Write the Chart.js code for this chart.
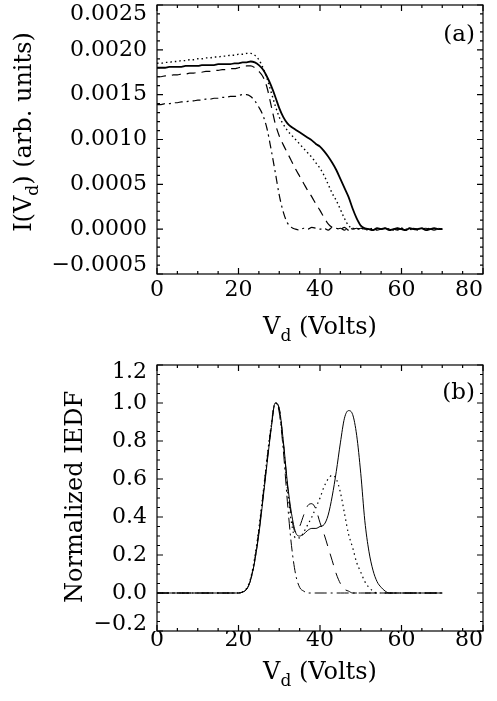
<!DOCTYPE html>
<html>
<head>
<meta charset="utf-8">
<script src="https://cdn.jsdelivr.net/npm/chart.js@4.4.1/dist/chart.umd.min.js"></script>
<style>
  body { margin: 0; background: #fff; }
  #wrap { position: relative; width: 497px; height: 701px; }
  canvas { position: absolute; left: 0; }
</style>
</head>
<body>
<div id="wrap">
  <canvas id="chartA" width="497" height="350" style="top:0"></canvas>
  <canvas id="chartB" width="497" height="351" style="top:350px"></canvas>
</div>
<script>
// retarding voltage grid (Volts)
const voltages = [
  0, 1, 2, 3, 4, 5, 6, 7, 8, 9,
  10, 11, 12, 13, 14, 15, 16, 17, 18, 19,
  20, 21, 22, 23, 24, 25, 26, 27, 28, 29,
  30, 31, 32, 33, 34, 35, 36, 37, 38, 39,
  40, 41, 42, 43, 44, 45, 46, 47, 48, 49,
  50, 51, 52, 53, 54, 55, 56, 57, 58, 59,
  60, 61, 62, 63, 64, 65, 66, 67, 68, 69, 70
];

// panel (a): collected current I(Vd), arb. units
const currentSolid = [
  0.00180, 0.00180, 0.00180, 0.00181, 0.00181, 0.00181, 0.00181, 0.00182, 0.00182, 0.00182,
  0.00182, 0.00183, 0.00183, 0.00183, 0.00183, 0.00184, 0.00184, 0.00184, 0.00184, 0.00185,
  0.00185, 0.00186, 0.00186, 0.00187, 0.00186, 0.00183, 0.00178, 0.00170, 0.00160, 0.00148,
  0.00135, 0.00125, 0.00118, 0.00114, 0.00111, 0.00108, 0.00105, 0.00102, 0.00099, 0.00095,
  0.00092, 0.00087, 0.00081, 0.00074, 0.00066, 0.00056, 0.00046, 0.00036, 0.00023, 0.00012,
  0.00004, 0.00001, 0.00000, -0.00001, 0.00001, 0.00000, 0.00001, -0.00001, 0.00000, 0.00001,
  0.00000, -0.00001, 0.00001, 0.00000, 0.00000, 0.00001, -0.00001, 0.00000, 0.00001, 0.00000, 0.00000
];
const currentDotted = [
  0.00185, 0.00185, 0.00186, 0.00186, 0.00187, 0.00187, 0.00188, 0.00188, 0.00189, 0.00189,
  0.00190, 0.00190, 0.00191, 0.00191, 0.00192, 0.00192, 0.00193, 0.00193, 0.00194, 0.00194,
  0.00195, 0.00195, 0.00196, 0.00196, 0.00194, 0.00189, 0.00180, 0.00168, 0.00153, 0.00138,
  0.00125, 0.00117, 0.00110, 0.00105, 0.00100, 0.00095, 0.00090, 0.00085, 0.00080, 0.00074,
  0.00068, 0.00060, 0.00050, 0.00040, 0.00032, 0.00022, 0.00012, 0.00004, 0.00001, 0.00000,
  0.00001, 0.00000, -0.00001, 0.00001, 0.00000, 0.00000, 0.00001, 0.00000, -0.00001, 0.00000,
  0.00001, 0.00000, 0.00000, -0.00001, 0.00001, 0.00000, 0.00000, 0.00001, 0.00000, 0.00000, 0.00000
];
const currentDashed = [
  0.00170, 0.00170, 0.00171, 0.00171, 0.00172, 0.00172, 0.00173, 0.00173, 0.00174, 0.00174,
  0.00175, 0.00175, 0.00176, 0.00176, 0.00177, 0.00177, 0.00178, 0.00178, 0.00179, 0.00179,
  0.00180, 0.00181, 0.00182, 0.00182, 0.00180, 0.00176, 0.00170, 0.00158, 0.00138, 0.00118,
  0.00104, 0.00094, 0.00085, 0.00076, 0.00067, 0.00059, 0.00051, 0.00043, 0.00036, 0.00028,
  0.00021, 0.00013, 0.00006, 0.00002, 0.00000, 0.00001, -0.00001, 0.00002, 0.00000, 0.00001,
  0.00000, 0.00001, 0.00000, -0.00001, 0.00001, 0.00000, 0.00001, 0.00000, 0.00000, -0.00001,
  0.00001, 0.00000, 0.00001, 0.00000, -0.00001, 0.00000, 0.00001, 0.00000, 0.00000, 0.00001, 0.00000
];
const currentDashDot = [
  0.00139, 0.00139, 0.00140, 0.00140, 0.00141, 0.00141, 0.00142, 0.00142, 0.00143, 0.00143,
  0.00144, 0.00144, 0.00145, 0.00145, 0.00146, 0.00146, 0.00147, 0.00147, 0.00148, 0.00148,
  0.00149, 0.00150, 0.00150, 0.00148, 0.00143, 0.00136, 0.00127, 0.00112, 0.00089, 0.00064,
  0.00038, 0.00019, 0.00007, 0.00002, 0.00000, -0.00001, 0.00001, 0.00000, 0.00002, 0.00001,
  0.00000, 0.00001, -0.00001, 0.00002, 0.00001, 0.00000, 0.00002, -0.00001, 0.00001, 0.00000,
  0.00001, 0.00000, 0.00000, 0.00001, -0.00001, 0.00000, 0.00001, 0.00000, 0.00000, 0.00001,
  0.00000, -0.00001, 0.00000, 0.00001, 0.00000, 0.00000, 0.00001, 0.00000, -0.00001, 0.00000, 0.00000
];

// panel (b): normalized IEDF
const iedfSolid = [
  0, 0, 0, 0, 0, 0, 0, 0, 0, 0,
  0, 0, 0, 0, 0, 0, 0, 0, 0, 0,
  0, 0.005, 0.02, 0.07, 0.17, 0.31, 0.49, 0.68, 0.86, 1.0,
  0.97, 0.80, 0.58, 0.42, 0.32, 0.30, 0.31, 0.33, 0.34, 0.34,
  0.35, 0.36, 0.41, 0.51, 0.64, 0.79, 0.92, 0.96, 0.94, 0.83,
  0.63, 0.38, 0.22, 0.12, 0.06, 0.03, 0.01, 0, 0, 0,
  0, 0, 0, 0, 0, 0, 0, 0, 0, 0, 0
];
const iedfDotted = [
  0, 0, 0, 0, 0, 0, 0, 0, 0, 0,
  0, 0, 0, 0, 0, 0, 0, 0, 0, 0,
  0, 0.006, 0.025, 0.08, 0.19, 0.34, 0.52, 0.71, 0.88, 1.0,
  0.96, 0.78, 0.55, 0.37, 0.29, 0.29, 0.32, 0.36, 0.40, 0.45,
  0.50, 0.56, 0.60, 0.62, 0.60, 0.53, 0.42, 0.31, 0.24, 0.16,
  0.11, 0.06, 0.03, 0.01, 0, 0, 0, 0, 0, 0,
  0, 0, 0, 0, 0, 0, 0, 0, 0, 0, 0
];
const iedfDashed = [
  0, 0, 0, 0, 0, 0, 0, 0, 0, 0,
  0, 0, 0, 0, 0, 0, 0, 0, 0, 0,
  0, 0.005, 0.022, 0.075, 0.18, 0.33, 0.51, 0.70, 0.87, 1.0,
  0.97, 0.79, 0.57, 0.40, 0.32, 0.35, 0.41, 0.46, 0.47, 0.44,
  0.37, 0.31, 0.24, 0.17, 0.10, 0.05, 0.02, 0.01, 0, 0,
  0, 0, 0, 0, 0, 0, 0, 0, 0, 0,
  0, 0, 0, 0, 0, 0, 0, 0, 0, 0, 0
];
const iedfDashDot = [
  0, 0, 0, 0, 0, 0, 0, 0, 0, 0,
  0, 0, 0, 0, 0, 0, 0, 0, 0, 0,
  0, 0.005, 0.02, 0.07, 0.17, 0.32, 0.50, 0.69, 0.87, 1.0,
  0.95, 0.75, 0.48, 0.25, 0.10, 0.03, 0.01, 0, 0, 0,
  0, 0, 0, 0, 0, 0, 0, 0, 0, 0,
  0, 0, 0, 0, 0, 0, 0, 0, 0, 0,
  0, 0, 0, 0, 0, 0, 0, 0, 0, 0, 0
];

const FONT = '"DejaVu Serif", serif';
const TITLE_SIZE = 24;

// draws a label with a subscript piece, centred on (cx, cy)
function drawParts(ctx, parts, cx, cy, size) {
  const subSize = Math.round(size * 0.7);
  const widths = parts.map(p => {
    ctx.font = (p.sub ? subSize : size) + 'px ' + FONT;
    return ctx.measureText(p.text).width;
  });
  const total = widths.reduce((s, w) => s + w, 0);
  let x = cx - total / 2;
  const base = cy + size * 0.36;
  ctx.textAlign = 'left';
  ctx.textBaseline = 'alphabetic';
  parts.forEach((p, i) => {
    ctx.font = (p.sub ? subSize : size) + 'px ' + FONT;
    ctx.fillText(p.text, x, p.sub ? base + size * 0.3 : base);
    x += widths[i];
  });
}

// box, inward major/minor ticks on all four sides, axis titles and panel tag
function makeFrame(cfg) {
  return {
    id: 'frame',
    afterDraw(chart) {
      const { ctx, chartArea: a, scales: { x, y } } = chart;
      ctx.save();
      ctx.strokeStyle = '#000';
      ctx.lineWidth = 1.2;
      ctx.strokeRect(a.left, a.top, a.right - a.left, a.bottom - a.top);
      ctx.beginPath();
      const nx = Math.round((x.max - x.min) / cfg.xMinor);
      for (let k = 0; k <= nx; k++) {
        const px = x.getPixelForValue(x.min + k * cfg.xMinor);
        const len = k % cfg.xEvery === 0 ? 6 : 3;
        ctx.moveTo(px, a.bottom); ctx.lineTo(px, a.bottom - len);
        ctx.moveTo(px, a.top); ctx.lineTo(px, a.top + len);
      }
      const ny = Math.round((y.max - y.min) / cfg.yMinor);
      for (let k = 0; k <= ny; k++) {
        const py = y.getPixelForValue(y.min + k * cfg.yMinor);
        const len = k % cfg.yEvery === 0 ? 6 : 3;
        ctx.moveTo(a.left, py); ctx.lineTo(a.left + len, py);
        ctx.moveTo(a.right, py); ctx.lineTo(a.right - len, py);
      }
      ctx.stroke();

      ctx.fillStyle = '#000';
      drawParts(ctx, cfg.xTitle, (a.left + a.right) / 2, a.bottom + cfg.xTitleGap, TITLE_SIZE);
      ctx.save();
      ctx.translate(cfg.yTitleX, cfg.yTitleY);
      ctx.rotate(-Math.PI / 2);
      drawParts(ctx, cfg.yTitle, 0, 0, TITLE_SIZE);
      ctx.restore();

      ctx.font = '23px ' + FONT;
      ctx.textAlign = 'right';
      ctx.textBaseline = 'middle';
      ctx.fillText(cfg.tag, a.right - 8, a.top + cfg.tagDy);
      ctx.restore();
    }
  };
}

function lineSet(data, dash, width) {
  return {
    data: data,
    borderColor: '#000',
    borderWidth: width,
    borderDash: dash,
    pointRadius: 0,
    fill: false,
    cubicInterpolationMode: 'monotone'
  };
}

function buildChart(canvasId, opts) {
  return new Chart(document.getElementById(canvasId), {
    type: 'line',
    data: { labels: voltages, datasets: opts.datasets },
    options: {
      responsive: false,
      devicePixelRatio: 1,
      animation: false,
      layout: { padding: { top: opts.top, right: 14, left: 0, bottom: 0 } },
      plugins: { legend: { display: false }, tooltip: { enabled: false } },
      scales: {
        x: {
          type: 'linear',
          min: 0,
          max: 80,
          grid: { display: false, drawTicks: false },
          border: { display: false },
          ticks: {
            stepSize: 20,
            color: '#000',
            padding: opts.xPad,
            font: { family: FONT, size: 22, lineHeight: 1 },
            maxRotation: 0,
            // last label sits inside the box edge, as in the original
            callback: (v, i, ticks) => i === ticks.length - 1 ? String(v) + '\u2007\u2007' : String(v)
          },
          afterFit: s => { s.height = opts.xHeight; s.paddingLeft = 0; s.paddingRight = 0; }
        },
        y: {
          min: opts.yMin,
          max: opts.yMax,
          grid: { display: false, drawTicks: false },
          border: { display: false },
          ticks: {
            stepSize: opts.yStep,
            color: '#000',
            padding: 10,
            font: { family: FONT, size: 22, lineHeight: opts.yLine },
            callback: (v, i, ticks) => {
              const val = Math.abs(v) < 1e-9 ? 0 : v;
              const txt = (val < 0 ? '\u2212' : '') + Math.abs(val).toFixed(opts.yDec);
              if (i === 0) return [txt, ''];
              if (i === ticks.length - 1) return ['', txt];
              return txt;
            }
          },
          afterFit: s => { s.width = 157; s.paddingTop = 0; s.paddingBottom = 0; }
        }
      }
    },
    plugins: [makeFrame(opts.frame)]
  });
}

const vdTitle = [{ text: 'V' }, { text: 'd', sub: true }, { text: ' (Volts)' }];

buildChart('chartA', {
  top: 5, xHeight: 76, xPad: 5,
  yMin: -0.0005, yMax: 0.0025, yStep: 0.0005, yDec: 4, yLine: '18px',
  datasets: [
    lineSet(currentSolid, [], 1.8),
    lineSet(currentDotted, [1.5, 3], 1.4),
    lineSet(currentDashed, [9, 6], 1.2),
    lineSet(currentDashDot, [8, 4, 2, 4], 1.2)
  ],
  frame: {
    xMinor: 5, xEvery: 4, yMinor: 0.0001, yEvery: 5,
    xTitle: vdTitle, xTitleGap: 51,
    yTitle: [{ text: 'I(V' }, { text: 'd', sub: true }, { text: ') (arb. units)' }],
    yTitleX: 22, yTitleY: 132,
    tag: '(a)', tagDy: 30
  }
});

buildChart('chartB', {
  top: 15, xHeight: 70, xPad: -2,
  yMin: -0.2, yMax: 1.2, yStep: 0.2, yDec: 1, yLine: '14px',
  datasets: [
    lineSet(iedfSolid, [], 1),
    lineSet(iedfDotted, [1.5, 3.5], 1.2),
    lineSet(iedfDashed, [12, 8], 1),
    lineSet(iedfDashDot, [12, 4, 2, 4], 1)
  ],
  frame: {
    xMinor: 5, xEvery: 4, yMinor: 0.05, yEvery: 4,
    xTitle: vdTitle, xTitleGap: 39,
    yTitle: [{ text: 'Normalized IEDF' }],
    yTitleX: 73, yTitleY: 147,
    tag: '(b)', tagDy: 28
  }
});
</script>
</body>
</html>
